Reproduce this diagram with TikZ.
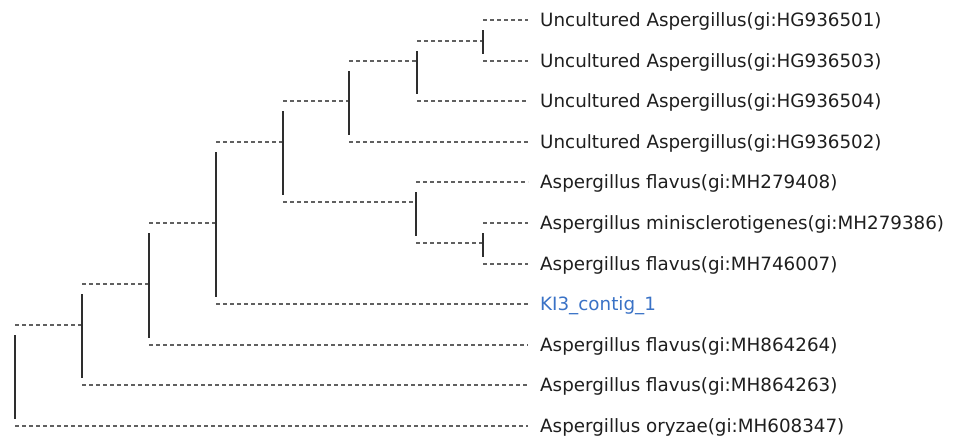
\documentclass[tikz,border=0pt]{standalone}
\usepackage{fontspec}
\setmainfont{DejaVu Sans}
\definecolor{linegray}{HTML}{606060}
\definecolor{vgray}{HTML}{2E2E2E}
\definecolor{txt}{HTML}{1E1E1E}
\definecolor{kiblue}{HTML}{3A72C6}
\begin{document}
\begin{tikzpicture}[x=1pt,y=-1pt,
  hline/.style={draw=linegray,line width=2pt,dash pattern=on 4pt off 3pt},
  vline/.style={draw=vgray,line width=1.6pt},
  leaf/.style={anchor=base west,inner sep=0pt,text=txt,font=\fontsize{18.3}{20}\selectfont},
  ]
\useasboundingbox (0,0) rectangle (956,440);
% rows
\def\rA{20}\def\rB{61}\def\rC{101}\def\rD{142}\def\rE{182}\def\rF{223}
\def\rG{264}\def\rH{304}\def\rI{345}\def\rJ{385}\def\rK{426}
% internal nodes (vertical x, stub y)
\coordinate (root) at (15,376);
\coordinate (n9) at (82,325);
\coordinate (n8) at (149,284);
\coordinate (n7) at (216,223);
\coordinate (n4) at (283,142);
\coordinate (n3) at (349,101);
\coordinate (n2) at (417,61);
\coordinate (n1) at (483,41);
\coordinate (n5) at (416,202);
\coordinate (n6) at (483,243);
% leaf line ends
\foreach \n/\y in {1/\rA,2/\rB,3/\rC,4/\rD,5/\rE,6/\rF,7/\rG,8/\rH,9/\rI,10/\rJ,11/\rK}
  \coordinate (e\n) at (528,\y);
% labels
\node[leaf] (t1) at (540,\rA+6.7) {Uncultured Aspergillus(gi:HG936501)};
\node[leaf] (t2) at (540,\rB+6.7) {Uncultured Aspergillus(gi:HG936503)};
\node[leaf] (t3) at (540,\rC+6.7) {Uncultured Aspergillus(gi:HG936504)};
\node[leaf] (t4) at (540,\rD+6.7) {Uncultured Aspergillus(gi:HG936502)};
\node[leaf] (t5) at (540,\rE+6.7) {Aspergillus flavus(gi:MH279408)};
\node[leaf] (t6) at (540,\rF+6.7) {Aspergillus minisclerotigenes(gi:MH279386)};
\node[leaf] (t7) at (540,\rG+6.7) {Aspergillus flavus(gi:MH746007)};
\node[leaf,text=kiblue] (t8) at (540,\rH+6.7) {KI3\_contig\_1};
\node[leaf] (t9) at (540,\rI+6.7) {Aspergillus flavus(gi:MH864264)};
\node[leaf] (t10) at (540,\rJ+6.7) {Aspergillus flavus(gi:MH864263)};
\node[leaf] (t11) at (540,\rK+6.7) {Aspergillus oryzae(gi:MH608347)};
% stubs of internal nodes
\draw[hline] (root |- n9) -- (n9);
\draw[hline] (n9 |- n8) -- (n8);
\draw[hline] (n8 |- n7) -- (n7);
\draw[hline] (n7 |- n4) -- (n4);
\draw[hline] (n4 |- n3) -- (n3);
\draw[hline] (n3 |- n2) -- (n2);
\draw[hline] (n2 |- n1) -- (n1);
\draw[hline] (n4 |- n5) -- (n5);
\draw[hline] (n5 |- n6) -- (n6);
% leaf lines
\draw[hline] (n1 |- e1) -- (e1);
\draw[hline] (n1 |- e2) -- (e2);
\draw[hline] (n2 |- e3) -- (e3);
\draw[hline] (n3 |- e4) -- (e4);
\draw[hline] (n5 |- e5) -- (e5);
\draw[hline] (n6 |- e6) -- (e6);
\draw[hline] (n6 |- e7) -- (e7);
\draw[hline] (n7 |- e8) -- (e8);
\draw[hline] (n8 |- e9) -- (e9);
\draw[hline] (n9 |- e10) -- (e10);
\draw[hline] (root |- e11) -- (e11);
% verticals (page y grows downward here, so shift down = negative yshift)
\draw[vline] ([yshift=-10pt]n1 |- e1) -- ([yshift=7pt]n1 |- e2);
\draw[vline] ([yshift=-10pt]n2 |- n1) -- ([yshift=7pt]n2 |- e3);
\draw[vline] ([yshift=-10pt]n3 |- n2) -- ([yshift=7pt]n3 |- e4);
\draw[vline] ([yshift=-10pt]n4 |- n3) -- ([yshift=7pt]n4 |- n5);
\draw[vline] ([yshift=-10pt]n5 |- e5) -- ([yshift=7pt]n5 |- n6);
\draw[vline] ([yshift=-10pt]n6 |- e6) -- ([yshift=7pt]n6 |- e7);
\draw[vline] ([yshift=-10pt]n7 |- n4) -- ([yshift=7pt]n7 |- e8);
\draw[vline] ([yshift=-10pt]n8 |- n7) -- ([yshift=7pt]n8 |- e9);
\draw[vline] ([yshift=-10pt]n9 |- n8) -- ([yshift=7pt]n9 |- e10);
\draw[vline] ([yshift=-10pt]root |- n9) -- ([yshift=7pt]root |- e11);
\end{tikzpicture}
\end{document}
